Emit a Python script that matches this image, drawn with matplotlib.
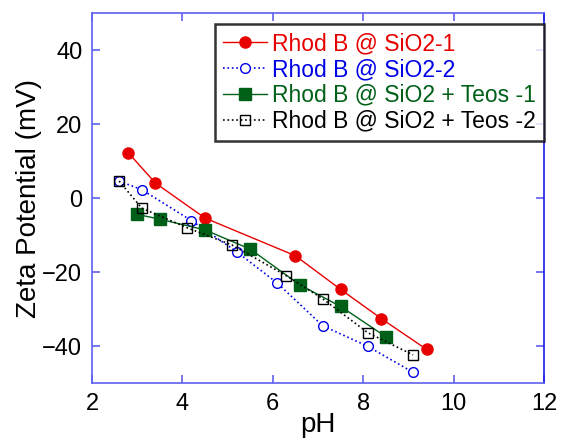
import matplotlib
matplotlib.use("Agg")
import matplotlib.pyplot as plt

plt.rcParams['font.family'] = ['Liberation Sans', 'DejaVu Sans']

# zeta potential vs pH for the four samples
ph_sio2_1 = [2.8, 3.4, 4.5, 6.5, 7.5, 8.4, 9.4]
zeta_sio2_1 = [12.3, 4.1, -5.4, -15.6, -24.7, -32.6, -40.9]

ph_sio2_2 = [2.6, 3.1, 4.2, 5.2, 6.1, 7.1, 8.1, 9.1]
zeta_sio2_2 = [4.6, 2.3, -6.1, -14.5, -23.0, -34.5, -40.1, -47.1]

ph_teos_1 = [3.0, 3.5, 4.5, 5.5, 6.6, 7.5, 8.5]
zeta_teos_1 = [-4.4, -5.7, -8.6, -13.8, -23.5, -29.3, -37.5]

ph_teos_2 = [2.6, 3.1, 4.1, 5.1, 6.3, 7.1, 8.1, 9.1]
zeta_teos_2 = [4.6, -2.7, -8.0, -12.7, -21.0, -27.2, -36.4, -42.4]

labels = ['Rhod B @ SiO2-1', 'Rhod B @ SiO2-2',
          'Rhod B @ SiO2 + Teos -1', 'Rhod B @ SiO2 + Teos -2']

fig = plt.figure(figsize=(5.61, 4.4), dpi=100)
ax = fig.add_axes([0.164, 0.1295, 0.806, 0.8405])

ax.plot(ph_sio2_1, zeta_sio2_1, '-', color='#e80000', lw=1.0,
        marker='o', ms=8, mfc='#e80000', mec='#e80000', label=labels[0])
ax.plot(ph_sio2_2, zeta_sio2_2, ':', color='#0000e8', lw=1.2,
        marker='o', ms=7, mfc='white', mec='#0000e8', mew=1.0, label=labels[1])
ax.plot(ph_teos_1, zeta_teos_1, '-', color='#006018', lw=1.0,
        marker='s', ms=8, mfc='#006018', mec='#006018', label=labels[2])
ax.plot(ph_teos_2, zeta_teos_2, ':', color='black', lw=1.2,
        marker='s', ms=7, mfc='none', mec='black', mew=1.0, label=labels[3])

ax.set_xlim(2, 12)
ax.set_ylim(-50, 50)
ax.set_xticks([2, 4, 6, 8, 10, 12])
ax.set_yticks([-40, -20, 0, 20, 40])

ax.set_xlabel('pH', fontsize=20, labelpad=-2)
ax.set_ylabel('Zeta Potential (mV)', fontsize=20, labelpad=0)

for side in ['left', 'bottom', 'top']:
    ax.spines[side].set_color('#6060ee')
ax.spines['right'].set_color('#1a1aee')
for s in ax.spines.values():
    s.set_linewidth(1.2)

ax.tick_params(direction='in', length=6, width=1.2, color='#6060ee',
               top=True, right=True, labelsize=17, pad=7)

leg = ax.legend(loc='upper right', bbox_to_anchor=(1.0, 0.97),
                fontsize=16.5, frameon=True, fancybox=False,
                handlelength=1.9, handletextpad=0.25, labelspacing=0.12,
                borderpad=0.35, borderaxespad=0.0)
leg.get_frame().set_edgecolor('black')
leg.get_frame().set_linewidth(1.8)
for txt, col in zip(leg.get_texts(), ['#e80000', '#0000e8', '#006018', 'black']):
    txt.set_color(col)

fig.savefig('out.png', dpi=100)
